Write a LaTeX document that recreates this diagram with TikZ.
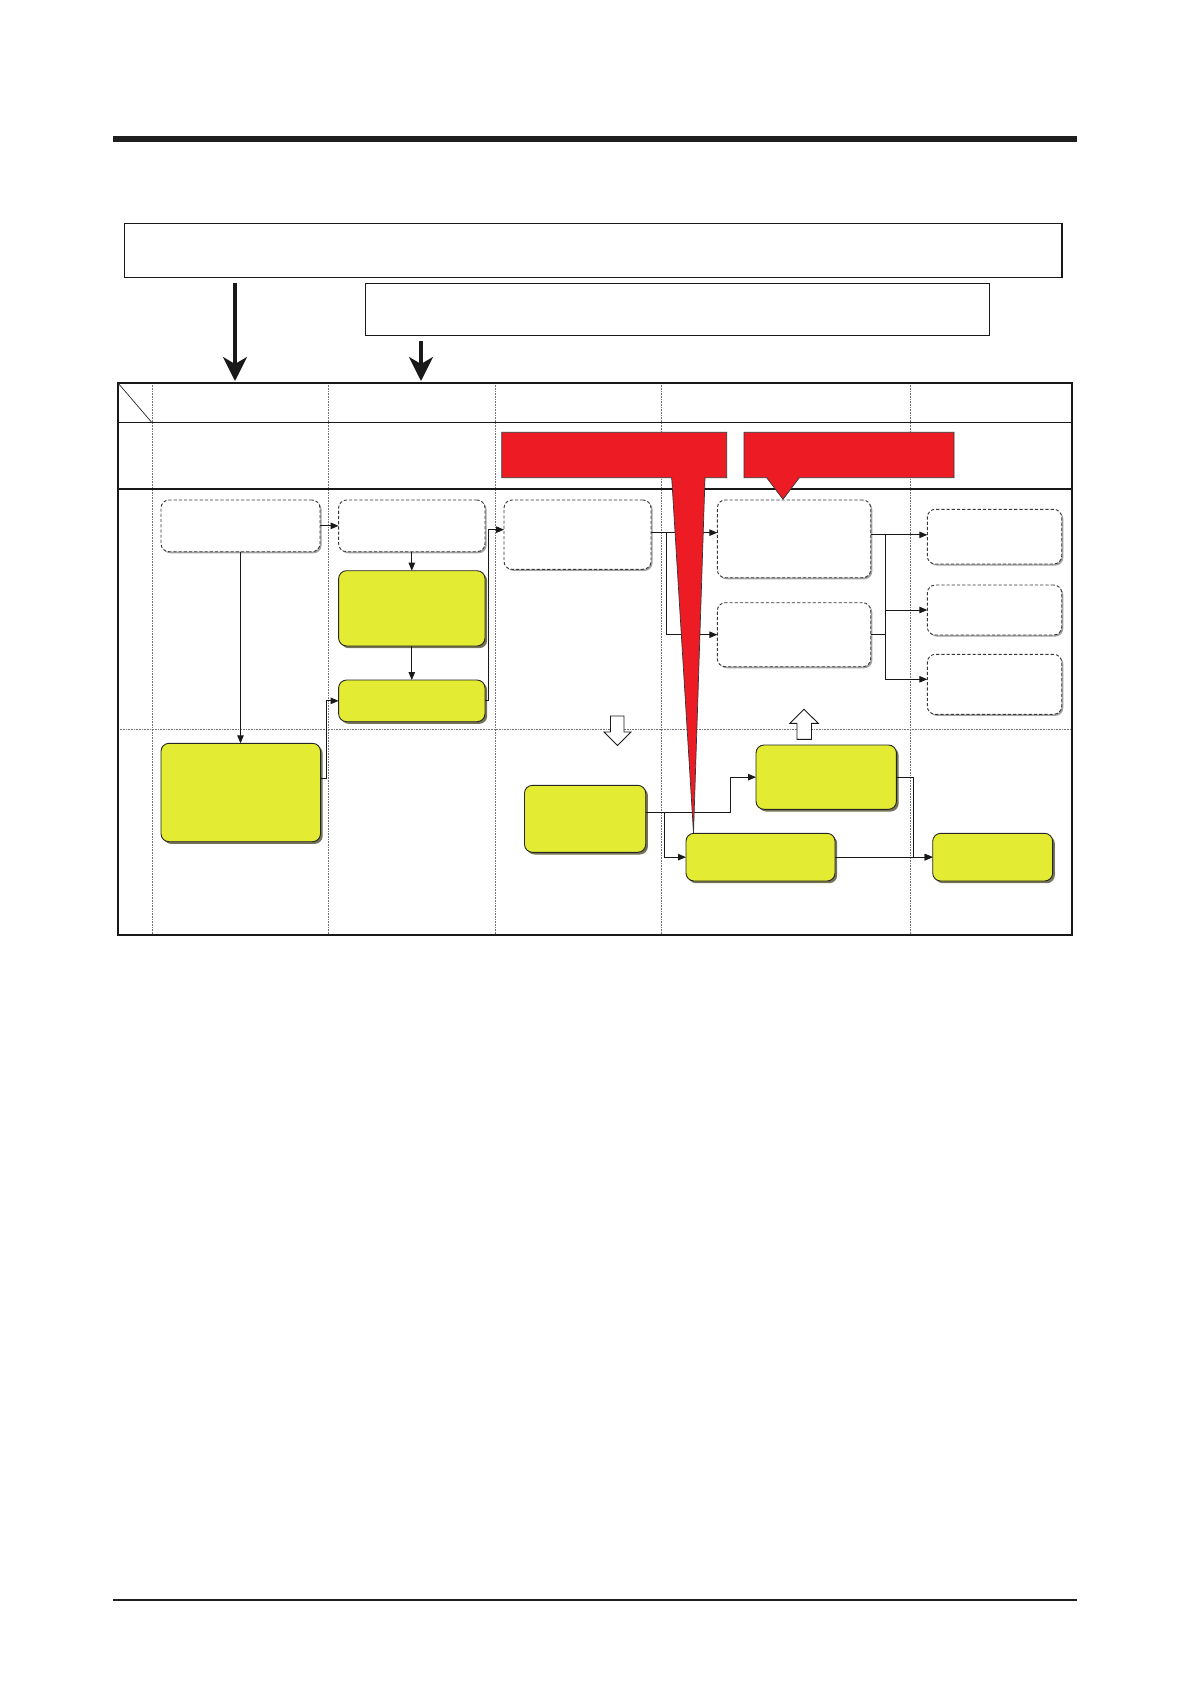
\documentclass[tikz,border=0pt]{standalone}
\usetikzlibrary{arrows.meta,shadows,calc}
\definecolor{ylw}{HTML}{E3EB33}
\definecolor{rd}{HTML}{ED1C24}
\definecolor{shd}{HTML}{5C5A3A}
\tikzset{
  ybox/.style={draw=black!85, line width=0.9pt, fill=ylw, rounded corners=8pt,
    drop shadow={shadow xshift=2.2pt, shadow yshift=-2.2pt, fill=shd, opacity=0.85}},
  dbox/.style={draw=black!78, line width=0.9pt, dash pattern=on 3.2pt off 2pt, fill=white, rounded corners=8pt,
    drop shadow={shadow xshift=1.6pt, shadow yshift=-1.6pt, fill=black!45, opacity=0.8}},
  tbox/.style={draw=black!90, line width=1.1pt, fill=white},
  conn/.style={draw=black!90, line width=0.9pt, -{Triangle[length=8pt,width=6.5pt]}},
  plain/.style={draw=black!90, line width=0.9pt},
  bigarrow/.style={draw=black!90, line width=3.2pt, -{Stealth[length=24pt,width=24pt,inset=7pt]}},
  gridline/.style={draw=black!55, line width=0.6pt, densely dotted},
  frameline/.style={draw=black!90, line width=1.1pt},
  callout/.style={fill=rd, draw=black!80, line width=0.7pt},
  hollow/.style={fill=white, draw=black!90, line width=0.9pt, line join=miter},
}
\newcommand\mkbox[6]{\node[#2, anchor=north west, inner sep=0pt, outer sep=0pt,
  minimum width={(#5-#3)*1pt}, minimum height={(#6-#4)*1pt}] (#1) at (#3,#4) {};}
\begin{document}
\begin{tikzpicture}[x=1pt,y=-1pt]
\useasboundingbox (0,0) rectangle (1191,1684);
% page rules
\fill[black!88] (113,136) rectangle (1077,142);
\fill[black!88] (113,1598.8) rectangle (1077,1601.3);
% top boxes
\mkbox{T1}{tbox}{124.6}{223.3}{1062}{277.3}
\mkbox{T2}{tbox}{365.3}{283.3}{989.7}{335.3}
\coordinate (a1) at (235,381);
\coordinate (a2) at (421,381);
\draw[bigarrow] ($(T1.south west)+(110.4,5.5)$) -- (a1);
\draw[bigarrow] ($(T2.south west)+(55.7,5.5)$) -- (a2);
% grid
\foreach \x in {152,328,495,661,910.5}
  \draw[gridline] (\x,383) -- (\x,935);
\draw[gridline] (118,729.3) -- (1072,729.3);
\draw[frameline] (118,383) rectangle (1072,935);
\draw[frameline] (118,422.7) -- (1072,422.7);
\draw[frameline] (118,489) -- (1072,489);
\draw[line width=0.7pt, black!85] (118,383) -- (152,422.7);
% process boxes
\mkbox{A}{dbox}{161}{500}{320}{551.7}
\mkbox{B}{dbox}{338.6}{500}{485}{551.7}
\mkbox{C}{ybox}{338.6}{570.7}{485}{646}
\mkbox{D}{ybox}{338.6}{680}{485}{721.7}
\mkbox{E}{dbox}{504}{500}{651}{569.3}
\mkbox{F}{dbox}{717.3}{500}{870.7}{577.7}
\mkbox{G}{dbox}{717.3}{602.7}{870.7}{666.7}
\mkbox{H}{dbox}{927.3}{509.3}{1061.7}{564}
\mkbox{I}{dbox}{927.3}{585}{1061.7}{635}
\mkbox{J}{dbox}{927.3}{654.3}{1061.7}{714.3}
\mkbox{K}{ybox}{161}{743.3}{320.5}{841.7}
\mkbox{L}{ybox}{524.5}{785.3}{645.7}{852.3}
\mkbox{M}{ybox}{756}{745}{896.4}{809.3}
\mkbox{N}{ybox}{686}{833.3}{835}{881}
\mkbox{O}{ybox}{932.7}{833.3}{1052.6}{881}
% connectors
\draw[conn] (A.east) -- (B.west);
\draw[conn] (A.south) -- (A.south |- K.north);
\draw[conn] (B.south) -- (B.south |- C.north);
\draw[conn] (C.south) -- (C.south |- D.north);
\draw[conn] ([yshift=14pt]K.east) -- ++(6.3,0) |- (D.west);
\draw[conn] (D.east) -- ++(3.6,0) |- ([yshift=5pt]E.west);
\draw[conn] ([yshift=2pt]E.east) -- ++(15.7,0) coordinate (ej) -- (ej -| F.west);
\draw[conn] (ej) |- (G.west);
\draw[conn] ([yshift=4pt]F.east) -- ++(15,0) coordinate (fj) -- (fj -| H.west);
\draw[conn] (fj) |- ([yshift=5pt]J.west);
\draw[conn] (fj |- I.west) -- (I.west);
\draw[plain] (G.east) -- (G.east -| fj);
\draw[conn] ([yshift=6pt]L.east) -- ++(85,0) |- (M.west);
\draw[conn] ([yshift=6pt]L.east) -- ++(19,0) |- (N.west);
\draw[conn] (M.east) -- ++(17,0) |- (O.west);
\draw[conn] (N.east) -- (O.west);
% hollow block arrows
\draw[hollow] (610.5,716) -- (624,716) -- (624,732) -- (631,732) -- (617.5,745.5)
  -- (604,732) -- (610.5,732) -- cycle;
\draw[hollow] (797,739.3) -- (811.5,739.3) -- (811.5,723.3) -- (818.3,723.3) -- (804,709.3)
  -- (790,723.3) -- (797,723.3) -- cycle;
% red callouts
\draw[callout] (501.8,432.3) -- (726.7,432.3) -- (726.7,477.7) -- (705,477.7)
  -- (693.5,833) -- (671.7,477.7) -- (501.8,477.7) -- cycle;
\draw[callout] (744,432.3) -- (954,432.3) -- (954,477.7) -- (799.3,477.7)
  -- (783,499.3) -- (766.7,477.7) -- (744,477.7) -- cycle;
\end{tikzpicture}
\end{document}
